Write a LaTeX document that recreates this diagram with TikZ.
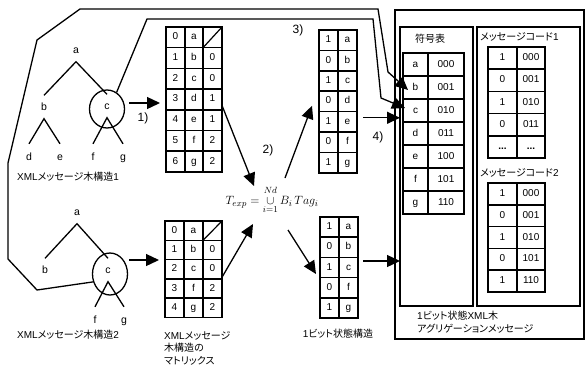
\documentclass[tikz,border=0pt]{standalone}
\usepackage{fontspec}
\setmainfont{Liberation Sans}
\newfontfamily\jp[RawFeature=+palt]{Noto Sans CJK JP}
\usetikzlibrary{shapes.geometric,arrows.meta}
\tikzset{
  cell/.style 2 args={draw, line width=1.5pt, inner sep=0pt, outer sep=0pt, anchor=north west,
    minimum width=#1pt, minimum height=#2pt, text height=7pt, text depth=2pt,
    font=\fontsize{10}{12}\selectfont},
  tnode/.style={inner sep=8pt, text height=7pt, text depth=0pt, font=\fontsize{10.5}{12}\selectfont},
  leaf/.style={tnode, inner sep=9.5pt},
  tline/.style={line width=1.3pt},
  oval/.style={draw, ellipse, line width=1.3pt, inner sep=0pt, minimum width=35pt},
  arr/.style={line width=1.3pt, -{Triangle[length=13pt,width=12pt]}},
  frame/.style={draw, line width=1.2pt, inner sep=0pt, outer sep=0pt, anchor=north west},
  stplabel/.style={font=\fontsize{12}{14}\selectfont, inner sep=0pt},
  lbl/.style={font=\fontsize{10}{12.5}\selectfont, inner sep=0pt},
}
\begin{document}
\begin{tikzpicture}[x=1pt,y=-1pt]
\path[fill=white] (0,0) rectangle (585,365);
\useasboundingbox (0,0) rectangle (585,365);

% ---------- frames on the right
\node[frame, minimum width=189pt, minimum height=329pt] (outer) at (395,10) {};
\node[frame, minimum width=73pt, minimum height=279pt] (box1) at (400,27) {};
\node[frame, minimum width=103pt, minimum height=279pt] (box2) at (477,27) {};

% ---------- tree 1
\node[tnode] (a1) at (76,50) {a};
\node[tnode] (b1) at (44,107) {b};
\node[tnode] (c1) at (107,106) {c};
\node[leaf] (d1) at (29,157) {d};
\node[leaf] (e1l) at (60,157) {e};
\node[leaf] (f1) at (93,157) {f};
\node[leaf] (g1) at (123,157) {g};
\node[oval, minimum height=38pt] (e1) at (107,109) {};
\draw[tline] (b1.north) -- (a1.south) -- (c1.north);
\draw[tline] (d1.north) -- (b1.south) -- (e1l.north);
\draw[tline] (f1.north) -- (c1.south) -- (g1.north);
\node[lbl] (lt1) at (68,177) {XML{\jp メッセージ木構造}1};

% ---------- tree 2
\node[tnode] (a2) at (77,212) {a};
\node[tnode] (b2) at (45,270) {b};
\node[tnode] (c2) at (108,270) {c};
\node[leaf] (f2) at (95,320) {f};
\node[leaf] (g2) at (124,320) {g};
\node[oval, minimum height=42pt] (e2) at (110,274) {};
\draw[tline] (b2.north) -- (a2.south) -- (c2.north);
\draw[tline] (f2.north) -- (c2.south) -- (g2.north);
\node[lbl] (lt2) at (68,335) {XML{\jp メッセージ木構造}2};

% ---------- matrix 1
\node[cell={19}{20.7}] (ma-0-1) at (166,27) {0};
\node[cell={18}{20.7}] (ma-0-2) at (185,27) {a};
\node[cell={19}{20.7}] (ma-0-3) at (203,27) {};
\draw[line width=1.2pt] (ma-0-3.south west) -- (ma-0-3.north east);
\foreach \p/\q/\s [count=\r] in {1/b/0,2/c/0,3/d/1,4/e/1,5/f/2,6/g/2}{
  \node[cell={19}{20.7}] (ma-\r-1) at (166,{27+20.7*\r}) {\p};
  \node[cell={18}{20.7}] (ma-\r-2) at (185,{27+20.7*\r}) {\q};
  \node[cell={19}{20.7}] (ma-\r-3) at (203,{27+20.7*\r}) {\s};
}

% ---------- matrix 2
\node[cell={19}{19.3}] (mb-0-1) at (165,221) {0};
\node[cell={19}{19.3}] (mb-0-2) at (184,221) {a};
\node[cell={19}{19.3}] (mb-0-3) at (203,221) {};
\draw[line width=1.2pt] (mb-0-3.south west) -- (mb-0-3.north east);
\foreach \p/\q/\s [count=\r] in {1/b/0,2/c/0,3/f/2,4/g/2}{
  \node[cell={19}{19.3}] (mb-\r-1) at (165,{221+19.3*\r}) {\p};
  \node[cell={19}{19.3}] (mb-\r-2) at (184,{221+19.3*\r}) {\q};
  \node[cell={19}{19.3}] (mb-\r-3) at (203,{221+19.3*\r}) {\s};
}
\node[lbl, anchor=north west, align=left] (lmx) at (164,331)
  {XML{\jp メッセージ}\\{\jp 木構造の}\\{\jp マトリックス}};

% ---------- 1-bit tables
\foreach \p/\q [count=\r from 0] in {1/a,0/b,1/c,0/d,1/e,0/f,1/g}{
  \node[cell={19}{20.4}] (tb-\r-1) at (319,{30+20.4*\r}) {\p};
  \node[cell={19}{20.4}] (tb-\r-2) at (338,{30+20.4*\r}) {\q};
}
\foreach \p/\q [count=\r from 0] in {1/a,0/b,1/c,0/f,1/g}{
  \node[cell={19}{20.2}] (bb-\r-1) at (320,{217+20.2*\r}) {\p};
  \node[cell={19}{20.2}] (bb-\r-2) at (339,{217+20.2*\r}) {\q};
}
\node[lbl] (lbs) at (338,334) {1{\jp ビット状態構造}};

% ---------- code table
\node[lbl] (lsym) at (430,39) {\jp 符号表};
\foreach \p/\q [count=\r from 0] in {a/000,b/001,c/010,d/011,e/100,f/101,g/110}{
  \node[cell={25}{23}] (cd-\r-1) at (403,{53+23*\r}) {\p};
  \node[cell={36}{23}] (cd-\r-2) at (428,{53+23*\r}) {\q};
}

% ---------- message codes
\node[lbl, anchor=west] (lmc1) at (480,37) {{\jp メッセージコード}1};
\foreach \p/\q [count=\r from 0] in {1/000,0/001,1/010,0/011}{
  \node[cell={29}{22.2}] (mc-\r-1) at (488,{47+22.2*\r}) {\p};
  \node[cell={28}{22.2}] (mc-\r-2) at (517,{47+22.2*\r}) {\q};
}
\node[cell={29}{22.2}] (mc-4-1) at (488,{47+22.2*4}) {\textbf{...}};
\node[cell={28}{22.2}] (mc-4-2) at (517,{47+22.2*4}) {\textbf{...}};
\node[lbl, anchor=west] (lmc2) at (480,173) {{\jp メッセージコード}2};
\foreach \p/\q [count=\r from 0] in {1/000,0/001,1/010,0/101,1/110}{
  \node[cell={29}{21.8}] (md-\r-1) at (488,{183+21.8*\r}) {\p};
  \node[cell={28}{21.8}] (md-\r-2) at (517,{183+21.8*\r}) {\q};
}
\node[lbl, anchor=north west, align=left] (lagg) at (417,311)
  {1{\jp ビット状態}XML{\jp 木}\\{\jp アグリゲーションメッセージ}};

% ---------- formula
\node[inner sep=0pt, font=\fontsize{12.5}{15}\selectfont] (F) at (272,200)
  {$T_{exp}=\mathop{\cup}\limits^{\raisebox{2pt}{$\scriptstyle Nd$}}_{\raisebox{-2pt}{$\scriptstyle i=1$}}B_i\,Tag_i$};
\coordinate (fin1) at (254,186);
\coordinate (fin2) at (253,224);
\coordinate (fout1) at (285,178);
\coordinate (fout2) at (288,230);

% ---------- step labels
\node[stplabel] (s1l) at (143,118) {1)};
\node[stplabel] (s2l) at (268,150) {2)};
\node[stplabel] (s3l) at (298,30) {3)};
\node[stplabel] (s4l) at (378,137) {4)};

% ---------- arrows
\coordinate (s1) at ([xshift=4pt,yshift=6pt]e1.east);
\draw[arr, shorten >=6pt] (s1) -- (s1 -| ma-3-1.west);
\coordinate (s2) at ([xshift=1pt,yshift=14pt]e2.east);
\draw[arr, shorten >=6pt] (s2) -- (s2 -| mb-0-1.west);
\draw[arr] ([yshift=-6pt]ma-3-3.east) -- (fin1);
\draw[arr] ([yshift=-8pt]mb-2-3.east) -- (fin2);
\draw[arr] (fout1) -- ([xshift=-7pt,yshift=16pt]tb-4-1.west);
\draw[arr] (fout2) -- ([xshift=-4pt,yshift=-6.5pt]bb-2-1.west);
\coordinate (s4) at ([xshift=6pt,yshift=4pt]tb-4-2.east);
\draw[arr] (s4) -- (s4 -| box1.west);
\coordinate (s5) at ([xshift=5pt,yshift=6.5pt]bb-2-2.east);
\draw[arr] (s5) -- (s5 -| box1.west);

% ---------- long connectors to the code table
\draw[arr] (e2.205) -- (37,290) -- (8,259) -- (8,163) -- (37,40) -- (80,9) -- (378,9)
  -- (388,72) -- ([xshift=5pt,yshift=-2.5pt]cd-1-1.west);
\draw[arr] (e1.60) -- (147,19) -- (373,19) -- (381,98) -- ([xshift=2pt,yshift=2.5pt]cd-2-1.west);
\end{tikzpicture}
\end{document}
